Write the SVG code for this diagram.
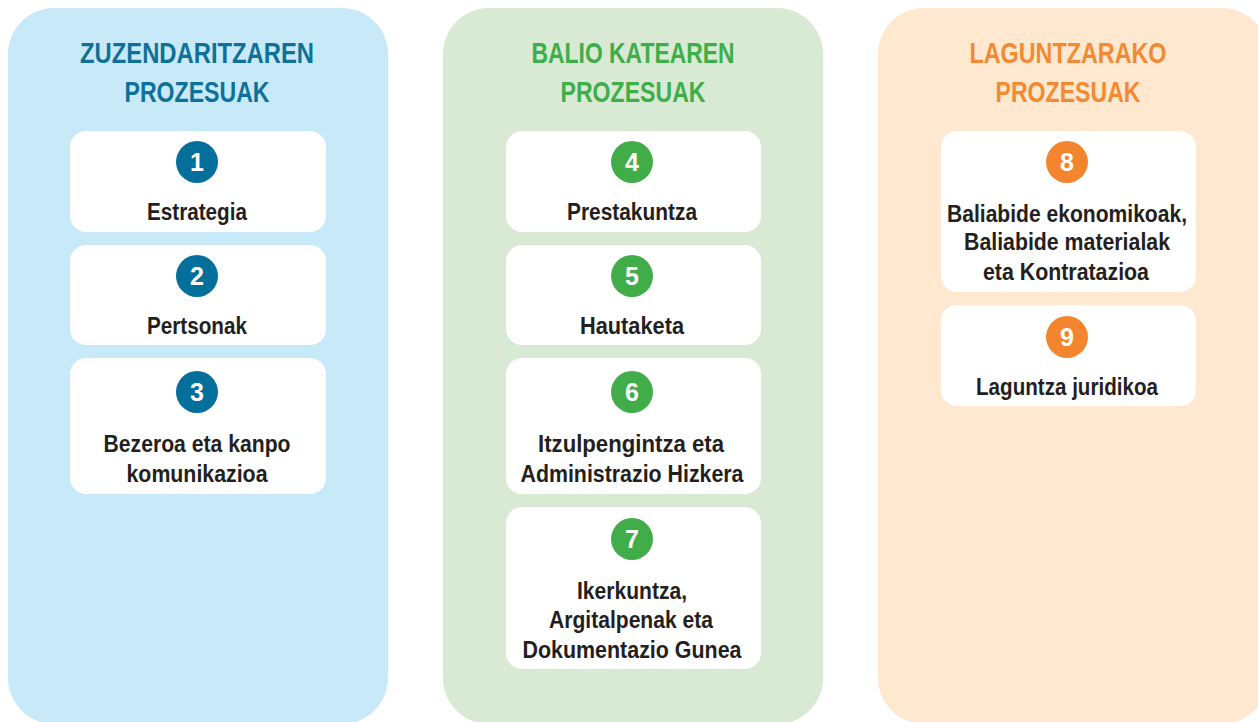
<svg xmlns="http://www.w3.org/2000/svg" width="1258" height="722" viewBox="0 0 1258 722">
<style>
.col-blue{fill:#C7E9F8}
.col-green{fill:#D8EAD3}
.col-orange{fill:#FEE9D0}
.card{fill:#FFFFFF}
.title{font-family:"Liberation Sans",Arial,sans-serif;font-size:30px;font-weight:bold;text-anchor:middle}
.t-blue{fill:#0F7198}
.t-green{fill:#3DAE4A}
.t-orange{fill:#F38A32}
.c-blue{fill:#036F9A}
.c-green{fill:#41AD49}
.c-orange{fill:#F3852F}
.num{font-family:"Liberation Sans",Arial,sans-serif;font-size:25px;font-weight:bold;fill:#FFFFFF;text-anchor:middle}
.lbl{font-family:"Liberation Sans",Arial,sans-serif;font-size:23px;font-weight:bold;fill:#231F20;text-anchor:middle}
</style>
<rect width="1258" height="722" fill="#FFFFFF"/>

<g id="column-zuzendaritza">
  <rect class="col-blue" x="8" y="8" width="380" height="716" rx="46"/>
  <text class="title t-blue" x="197" y="63" textLength="234" lengthAdjust="spacingAndGlyphs">ZUZENDARITZAREN</text>
  <text class="title t-blue" x="197" y="102" textLength="145" lengthAdjust="spacingAndGlyphs">PROZESUAK</text>
</g>
<g id="column-balio">
  <rect class="col-green" x="443" y="8" width="380" height="716" rx="46"/>
  <text class="title t-green" x="633" y="63" textLength="203" lengthAdjust="spacingAndGlyphs">BALIO KATEAREN</text>
  <text class="title t-green" x="633" y="102" textLength="145" lengthAdjust="spacingAndGlyphs">PROZESUAK</text>
</g>
<g id="column-laguntzarako">
  <rect class="col-orange" x="878" y="8" width="390" height="716" rx="46"/>
  <text class="title t-orange" x="1068" y="63" textLength="197" lengthAdjust="spacingAndGlyphs">LAGUNTZARAKO</text>
  <text class="title t-orange" x="1068" y="102" textLength="145" lengthAdjust="spacingAndGlyphs">PROZESUAK</text>
</g>

<g id="node-1">
  <rect class="card" x="70" y="131" width="256" height="101" rx="16"/>
  <circle class="c-blue" cx="197" cy="162" r="21"/>
  <text class="num" x="197" y="171">1</text>
  <text class="lbl" x="197" y="220" textLength="100" lengthAdjust="spacingAndGlyphs">Estrategia</text>
</g>
<g id="node-2">
  <rect class="card" x="70" y="245" width="256" height="100" rx="16"/>
  <circle class="c-blue" cx="197" cy="276" r="21"/>
  <text class="num" x="197" y="285">2</text>
  <text class="lbl" x="197" y="334" textLength="100" lengthAdjust="spacingAndGlyphs">Pertsonak</text>
</g>
<g id="node-3">
  <rect class="card" x="70" y="358" width="256" height="136" rx="16"/>
  <circle class="c-blue" cx="197" cy="392" r="21"/>
  <text class="num" x="197" y="401">3</text>
  <text class="lbl" x="197" y="452" textLength="187" lengthAdjust="spacingAndGlyphs">Bezeroa eta kanpo</text>
  <text class="lbl" x="197" y="482" textLength="141" lengthAdjust="spacingAndGlyphs">komunikazioa</text>
</g>

<g id="node-4">
  <rect class="card" x="506" y="131" width="255" height="101" rx="16"/>
  <circle class="c-green" cx="632" cy="162" r="21"/>
  <text class="num" x="632" y="171">4</text>
  <text class="lbl" x="632" y="220" textLength="130" lengthAdjust="spacingAndGlyphs">Prestakuntza</text>
</g>
<g id="node-5">
  <rect class="card" x="506" y="245" width="255" height="100" rx="16"/>
  <circle class="c-green" cx="632" cy="276" r="21"/>
  <text class="num" x="632" y="285">5</text>
  <text class="lbl" x="632" y="334" textLength="104" lengthAdjust="spacingAndGlyphs">Hautaketa</text>
</g>
<g id="node-6">
  <rect class="card" x="506" y="358" width="255" height="136" rx="16"/>
  <circle class="c-green" cx="632" cy="392" r="21"/>
  <text class="num" x="632" y="401">6</text>
  <text class="lbl" x="631" y="452" textLength="186" lengthAdjust="spacingAndGlyphs">Itzulpengintza eta</text>
  <text class="lbl" x="632" y="482" textLength="223" lengthAdjust="spacingAndGlyphs">Administrazio Hizkera</text>
</g>
<g id="node-7">
  <rect class="card" x="506" y="507" width="255" height="162" rx="16"/>
  <circle class="c-green" cx="632" cy="539" r="21"/>
  <text class="num" x="632" y="548">7</text>
  <text class="lbl" x="632" y="599" textLength="110" lengthAdjust="spacingAndGlyphs">Ikerkuntza,</text>
  <text class="lbl" x="631" y="628" textLength="164" lengthAdjust="spacingAndGlyphs">Argitalpenak eta</text>
  <text class="lbl" x="632" y="658" textLength="219" lengthAdjust="spacingAndGlyphs">Dokumentazio Gunea</text>
</g>

<g id="node-8">
  <rect class="card" x="941" y="131" width="255" height="161" rx="16"/>
  <circle class="c-orange" cx="1067" cy="162" r="21"/>
  <text class="num" x="1067" y="171">8</text>
  <text class="lbl" x="1067" y="222" textLength="240" lengthAdjust="spacingAndGlyphs">Baliabide ekonomikoak,</text>
  <text class="lbl" x="1067" y="250" textLength="206" lengthAdjust="spacingAndGlyphs">Baliabide materialak</text>
  <text class="lbl" x="1066" y="280" textLength="166" lengthAdjust="spacingAndGlyphs">eta Kontratazioa</text>
</g>
<g id="node-9">
  <rect class="card" x="941" y="305" width="255" height="101" rx="16"/>
  <circle class="c-orange" cx="1067" cy="337" r="21"/>
  <text class="num" x="1067" y="346">9</text>
  <text class="lbl" x="1067" y="395" textLength="182" lengthAdjust="spacingAndGlyphs">Laguntza juridikoa</text>
</g>

<g id="connectors"/>
</svg>
